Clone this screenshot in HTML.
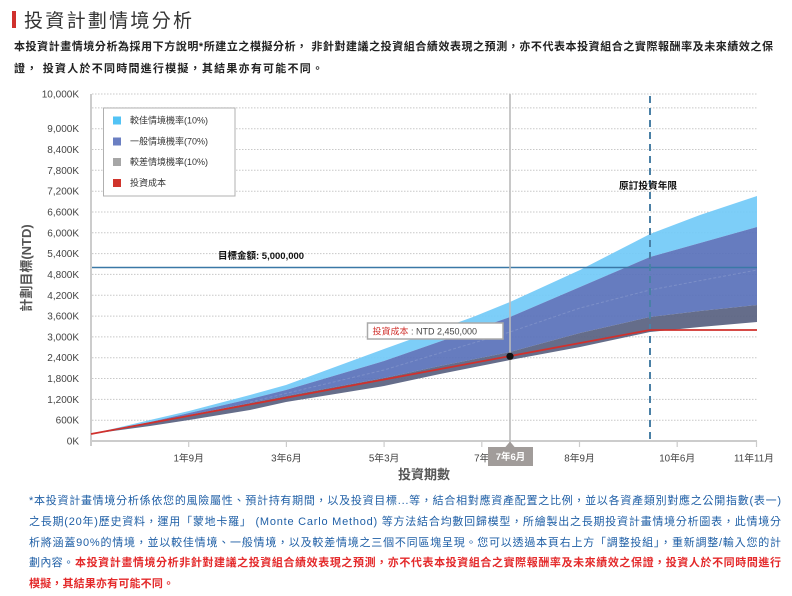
<!DOCTYPE html>
<html>
<head>
<meta charset="utf-8">
<style>
  html,body{margin:0;padding:0;background:#fff;}
  svg{display:block;}
  text{font-family:"Liberation Sans","Noto Sans CJK TC",sans-serif;}
</style>
</head>
<body>
<svg width="792" height="596" viewBox="0 0 792 596" xmlns="http://www.w3.org/2000/svg">
  <rect width="792" height="596" fill="#fff"/>

  <!-- Header -->
  <rect x="12" y="11" width="4" height="17" fill="#d0312d"/>
  <text x="24" y="27" font-size="19" fill="#333" textLength="168" lengthAdjust="spacing">投資計劃情境分析</text>
  <text x="14" y="50" font-size="11" font-weight="bold" fill="#222" textLength="759" lengthAdjust="spacing">本投資計畫情境分析為採用下方說明*所建立之模擬分析， 非針對建議之投資組合績效表現之預測，亦不代表本投資組合之實際報酬率及未來績效之保</text>
  <text x="14" y="72" font-size="11" font-weight="bold" fill="#222" textLength="309" lengthAdjust="spacing">證， 投資人於不同時間進行模擬，其結果亦有可能不同。</text>

  <!-- Gridlines -->
  <g stroke="#c8c8c8" stroke-width="1" stroke-dasharray="1.5,1.5">
    <line x1="92" y1="420.2" x2="757" y2="420.2"/>
    <line x1="92" y1="399.4" x2="757" y2="399.4"/>
    <line x1="92" y1="378.5" x2="757" y2="378.5"/>
    <line x1="92" y1="357.7" x2="757" y2="357.7"/>
    <line x1="92" y1="336.9" x2="757" y2="336.9"/>
    <line x1="92" y1="316.1" x2="757" y2="316.1"/>
    <line x1="92" y1="295.3" x2="757" y2="295.3"/>
    <line x1="92" y1="274.4" x2="757" y2="274.4"/>
    <line x1="92" y1="253.6" x2="757" y2="253.6"/>
    <line x1="92" y1="232.8" x2="757" y2="232.8"/>
    <line x1="92" y1="212.0" x2="757" y2="212.0"/>
    <line x1="92" y1="191.2" x2="757" y2="191.2"/>
    <line x1="92" y1="170.3" x2="757" y2="170.3"/>
    <line x1="92" y1="149.5" x2="757" y2="149.5"/>
    <line x1="92" y1="128.7" x2="757" y2="128.7"/>
    <line x1="92" y1="107.9" x2="757" y2="107.9"/>
    <line x1="92" y1="94.0" x2="757" y2="94.0"/>
  </g>

  <!-- Y labels -->
  <g font-size="10" fill="#444" text-anchor="end">
    <text x="79" y="444.5">0K</text>
    <text x="79" y="423.7">600K</text>
    <text x="79" y="402.9">1,200K</text>
    <text x="79" y="382">1,800K</text>
    <text x="79" y="361.2">2,400K</text>
    <text x="79" y="340.4">3,000K</text>
    <text x="79" y="319.6">3,600K</text>
    <text x="79" y="298.8">4,200K</text>
    <text x="79" y="277.9">4,800K</text>
    <text x="79" y="257.1">5,400K</text>
    <text x="79" y="236.3">6,000K</text>
    <text x="79" y="215.5">6,600K</text>
    <text x="79" y="194.7">7,200K</text>
    <text x="79" y="173.8">7,800K</text>
    <text x="79" y="153">8,400K</text>
    <text x="79" y="132.2">9,000K</text>
    <text x="79" y="97.5">10,000K</text>
  </g>

  <!-- Y title -->
  <text transform="translate(31,268) rotate(-90)" font-size="13" font-weight="bold" fill="#555" text-anchor="middle">計劃目標(NTD)</text>

  <!-- Bands -->
  <polygon fill="#72CAF7" fill-opacity="0.92" points="91,434 150,420 189,411 250,395 286,385 384,349 473,317 510,302 580,270 650,234 700,215 757,196 757,227 700,243 650,257 580,287 510,317 473,330 384,361 286,390 250,399 189,413 150,422 91,434"/>
  <polygon fill="#5971BA" fill-opacity="0.92" points="91,434 150,422 189,413 250,399 286,390 384,361 473,330 510,317 580,287 650,257 700,243 757,227 757,305 700,311 650,317 580,333 510,352 440,366 384,378 286,396 250,403 189,415 150,423 91,434"/>
  <polygon fill="#586180" fill-opacity="0.92" points="91,434 150,423 189,415 250,403 286,396 384,378 440,366 510,352 580,333 650,317 700,311 757,305 757,322 700,327 650,332 580,347 510,360 440,374 384,386 286,402 250,410 189,420 150,426 91,434"/>

  <!-- faint median -->
  <polyline fill="none" stroke="#ffffff" stroke-opacity="0.15" stroke-width="1" stroke-dasharray="3,2" points="250,402 384,370 440,353 510,332 580,308 650,290 757,270"/>

  <!-- target line -->
  <line x1="92" y1="267.5" x2="757" y2="267.5" stroke="#3a78a6" stroke-width="1.6"/>
  <text x="218" y="259" font-size="9.5" font-weight="bold" fill="#111">目標金額: 5,000,000</text>

  <!-- original term dashed line -->
  <line x1="650" y1="96" x2="650" y2="441" stroke="#4a80a6" stroke-width="2" stroke-dasharray="7,5"/>
  <text x="619" y="189" font-size="9.7" font-weight="bold" fill="#111">原訂投資年限</text>

  <!-- axes -->
  <line x1="91" y1="94" x2="91" y2="446" stroke="#ccc" stroke-width="2"/>
  <line x1="90" y1="441" x2="757" y2="441" stroke="#ccc" stroke-width="2"/>
  <g stroke="#ccc" stroke-width="1.2">
    <line x1="188.7" y1="441" x2="188.7" y2="447"/>
    <line x1="286.4" y1="441" x2="286.4" y2="447"/>
    <line x1="384.1" y1="441" x2="384.1" y2="447"/>
    <line x1="481.8" y1="441" x2="481.8" y2="447"/>
    <line x1="579.5" y1="441" x2="579.5" y2="447"/>
    <line x1="677.2" y1="441" x2="677.2" y2="447"/>
    <line x1="756.5" y1="441" x2="756.5" y2="447"/>
  </g>
  <g font-size="9.8" fill="#444" text-anchor="middle">
    <text x="188.7" y="461.5">1年9月</text>
    <text x="286.4" y="461.5">3年6月</text>
    <text x="384.1" y="461.5">5年3月</text>
    <text x="481.8" y="461.5">7年</text>
    <text x="579.5" y="461.5">8年9月</text>
    <text x="677.2" y="461.5">10年6月</text>
    <text x="754" y="461.5">11年11月</text>
  </g>
  <text x="424" y="479" font-size="13" font-weight="bold" fill="#555" text-anchor="middle">投資期數</text>

  <!-- crosshair -->
  <line x1="510" y1="94" x2="510" y2="445" stroke="#bbb" stroke-width="1.6"/>

  <!-- cost line -->
  <polyline fill="none" stroke="#d0312d" stroke-width="1.8" points="91,434 650,330 757,330"/>
  <circle cx="510" cy="356.3" r="3.6" fill="#111"/>

  <!-- tooltip -->
  <rect x="367.5" y="323" width="135.5" height="16" fill="#fff" stroke="#aaa" stroke-width="1.5"/>
  <text x="372.5" y="334.5" font-size="9"><tspan fill="#d0312d">投資成本</tspan><tspan fill="#444"> : NTD 2,450,000</tspan></text>

  <!-- x crosshair label -->
  <polygon points="505,447.5 510,441.5 515,447.5" fill="#a19c9a"/>
  <rect x="488" y="447" width="45" height="19" fill="#a19c9a"/>
  <text x="510.5" y="460" font-size="9.5" font-weight="bold" fill="#fff" text-anchor="middle">7年6月</text>

  <!-- legend -->
  <rect x="103.5" y="108" width="131.5" height="88" fill="#fff" stroke="#b0b0b0" stroke-width="1"/>
  <rect x="113" y="116.5" width="8" height="8" fill="#52c3f5"/>
  <rect x="113" y="137.5" width="8" height="8" fill="#6b7fc2"/>
  <rect x="113" y="158" width="8" height="8" fill="#a6a6a6"/>
  <rect x="113" y="179" width="8" height="8" fill="#d0342c"/>
  <g font-size="9" fill="#333">
    <text x="130" y="123.5">較佳情境機率(10%)</text>
    <text x="130" y="144.5">一般情境機率(70%)</text>
    <text x="130" y="165">較差情境機率(10%)</text>
    <text x="130" y="186">投資成本</text>
  </g>

  <!-- Footer -->
  <g font-size="11" fill="#1f5fa6">
    <text x="29" y="504" textLength="752" lengthAdjust="spacing">*本投資計畫情境分析係依您的風險屬性、預計持有期間，以及投資目標...等，結合相對應資產配置之比例，並以各資產類別對應之公開指數(表一)</text>
    <text x="29" y="525" textLength="752" lengthAdjust="spacing">之長期(20年)歷史資料，運用「蒙地卡羅」 (Monte Carlo Method) 等方法結合均數回歸模型，所繪製出之長期投資計畫情境分析圖表，此情境分</text>
    <text x="29" y="546" textLength="752" lengthAdjust="spacing">析將涵蓋90%的情境，並以較佳情境、一般情境，以及較差情境之三個不同區塊呈現。您可以透過本頁右上方「調整投組」，重新調整/輸入您的計</text>
    <text x="29" y="566" textLength="45" lengthAdjust="spacing">劃內容。</text>
  </g>
  <g font-size="11" font-weight="bold" fill="#e42a2b">
    <text x="75" y="566" textLength="706" lengthAdjust="spacing">本投資計畫情境分析非針對建議之投資組合績效表現之預測，亦不代表本投資組合之實際報酬率及未來績效之保證，投資人於不同時間進行</text>
    <text x="29" y="587" textLength="145" lengthAdjust="spacing">模擬，其結果亦有可能不同。</text>
  </g>
</svg>
</body>
</html>
